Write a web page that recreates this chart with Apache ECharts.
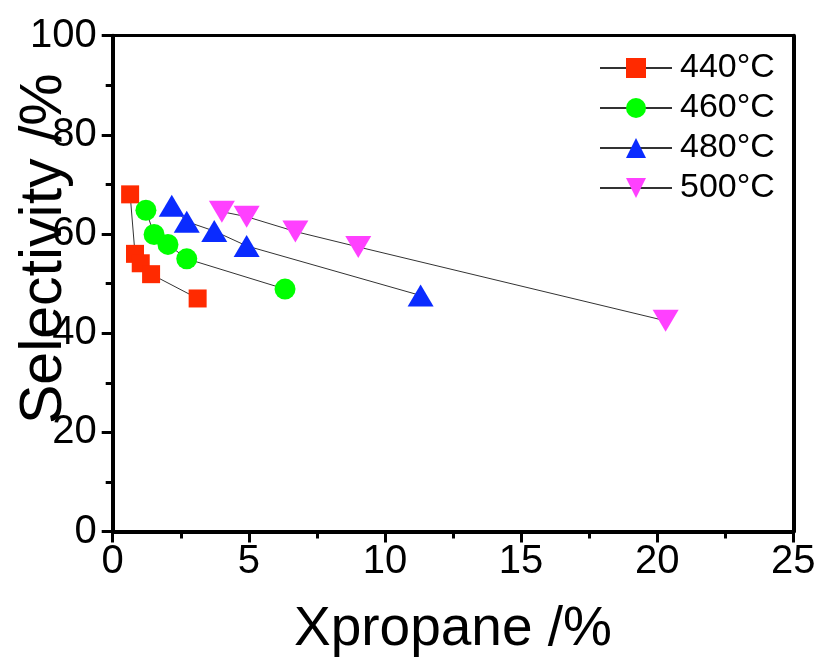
<!DOCTYPE html>
<html>
<head>
<meta charset="utf-8">
<script src="https://cdn.jsdelivr.net/npm/echarts@6/dist/echarts.min.js"></script>
<style>
html,body{margin:0;padding:0;background:#fff;}
#chart{width:820px;height:668px;}
</style>
</head>
<body>
<div id="chart"></div>
<script>
// Data
const seriesNames = ['440°C', '460°C', '480°C', '500°C'];
const x440 = [0.64, 0.82, 1.03, 1.41, 3.12];
const y440 = [68.0, 56.0, 54.1, 51.9, 47.0];
const x460 = [1.22, 1.52, 2.03, 2.72, 6.33];
const y460 = [64.8, 59.9, 57.9, 55.0, 48.9];
const x480 = [2.17, 2.72, 3.73, 4.92, 11.31];
const y480 = [65.7, 62.5, 60.6, 57.6, 47.6];
const x500 = [4.01, 4.92, 6.71, 9.02, 20.31];
const y500 = [64.5, 63.5, 60.5, 57.4, 42.5];
const xTicks = [0, 5, 10, 15, 20, 25];
const yTicks = [0, 20, 40, 60, 80, 100];
const xTitle = 'Xpropane /%';
const yTitle = 'Selectivity /%';

const colors = ['#ff2a00', '#00ff00', '#0a2bff', '#ff40ff'];
const symbols = ['rect', 'circle', 'triangle', 'triangle'];
const symbolSizes = [18, 21, [26, 22], [26, 22]];
const rotates = [0, 0, 0, 180];
const xs = [x440, x460, x480, x500];
const ys = [y440, y460, y480, y500];

const font = 'Arial, "Liberation Sans", sans-serif';

const series = seriesNames.map((name, i) => ({
  name: name,
  type: 'line',
  xAxisIndex: 0,
  yAxisIndex: 0,
  data: xs[i].map((v, j) => [v, ys[i][j]]),
  symbol: symbols[i],
  symbolSize: symbolSizes[i],
  symbolRotate: rotates[i],
  showAllSymbol: true,
  lineStyle: { color: '#333', width: 1 },
  itemStyle: { color: colors[i], opacity: 1 },
  emphasis: { disabled: true },
  animation: false,
  z: 3
}));

const chart = echarts.init(document.getElementById('chart'), null, { renderer: 'canvas' });
chart.setOption({
  backgroundColor: '#fff',
  animation: false,
  grid: { left: 112.7, right: 26.7, top: 35.7, bottom: 136.5, containLabel: false, outerBoundsMode: 'none' },
  legend: {
    data: seriesNames,
    left: 594,
    top: 46,
    orient: 'vertical',
    itemWidth: 72,
    itemHeight: 25,
    itemGap: 6,
    textStyle: { fontFamily: font, fontSize: 34, color: '#000', padding: [0, 0, 0, 3] },
    selectedMode: false
  },
  xAxis: [{
    type: 'value',
    min: 0, max: 25, interval: 5,
    position: 'bottom',
    name: xTitle,
    nameLocation: 'middle',
    nameGap: 71,
    nameMoveOverlap: false,
    nameTextStyle: { fontFamily: font, fontSize: 55, color: '#000' },
    axisLine: { show: true, onZero: false, lineStyle: { color: '#000', width: 4 } },
    axisTick: { show: true, inside: false, length: 11, lineStyle: { color: '#000', width: 3 } },
    minorTick: { show: true, splitNumber: 2, length: 7, lineStyle: { color: '#000', width: 3 } },
    axisLabel: { fontFamily: font, fontSize: 40, color: '#000', margin: 10,
      formatter: v => xTicks.includes(v) ? String(v) : '' },
    splitLine: { show: false }
  }, {
    type: 'value', min: 0, max: 25, position: 'top',
    axisLine: { show: true, onZero: false, lineStyle: { color: '#000', width: 3 } },
    axisTick: { show: false }, axisLabel: { show: false }, splitLine: { show: false }
  }],
  yAxis: [{
    type: 'value',
    min: 0, max: 100, interval: 20,
    position: 'left',
    name: yTitle,
    nameLocation: 'middle',
    nameRotate: 90,
    nameGap: 38,
    nameMoveOverlap: false,
    nameTextStyle: { fontFamily: font, fontSize: 59, color: '#000', padding: [0, 0, 0, 70] },
    axisLine: { show: true, onZero: false, lineStyle: { color: '#000', width: 4 } },
    axisTick: { show: true, inside: false, length: 11, lineStyle: { color: '#000', width: 3 } },
    minorTick: { show: true, splitNumber: 2, length: 7, lineStyle: { color: '#000', width: 3 } },
    axisLabel: { fontFamily: font, fontSize: 40, color: '#000', margin: 16,
      formatter: v => yTicks.includes(v) ? String(v) : '' },
    splitLine: { show: false }
  }, {
    type: 'value', min: 0, max: 100, position: 'right',
    axisLine: { show: true, onZero: false, lineStyle: { color: '#000', width: 4 } },
    axisTick: { show: false }, axisLabel: { show: false }, splitLine: { show: false }
  }],
  series: series
});
</script>
</body>
</html>
